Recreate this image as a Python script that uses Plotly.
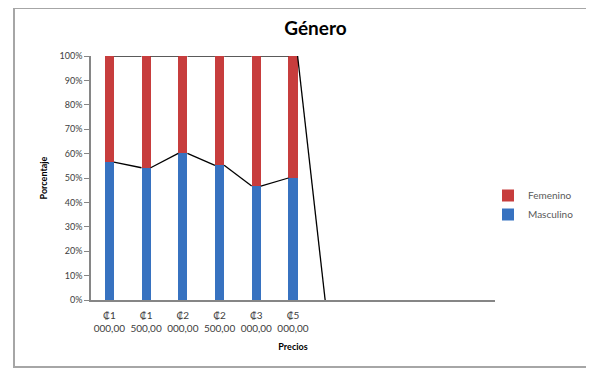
import plotly.graph_objects as go

# ---- data ----
categories = ["₡1 000,00", "₡1 500,00", "₡2 000,00", "₡2 500,00", "₡3 000,00", "₡5 000,00",
              "", "", "", "", ""]
masculino = [56.5, 54.2, 60.1, 55.2, 46.7, 50.0, 0, 0, 0, 0, 0]
femenino = [43.5, 45.8, 39.9, 44.8, 53.3, 50.0, 0, 0, 0, 0, 0]
y_ticks = [0, 10, 20, 30, 40, 50, 60, 70, 80, 90, 100]

BAR_W = 0.25
pos = list(range(len(categories)))
ticktext = [c.replace(" ", "<br>") for c in categories]
n_data = 6

fig = go.Figure()
fig.add_trace(go.Bar(x=pos, y=masculino, name="Masculino", width=BAR_W,
                     marker=dict(color="#3772c0", line=dict(width=0))))
fig.add_trace(go.Bar(x=pos, y=femenino, name="Femenino", width=BAR_W,
                     marker=dict(color="#c73d3d", line=dict(width=0))))

# series lines (Excel style) built from the data
totals = [m + f for m, f in zip(masculino, femenino)]
lx, ly = [], []
for i in range(n_data):
    lx += [pos[i] + BAR_W / 2, pos[i + 1] - BAR_W / 2, None]
    ly += [totals[i], totals[i + 1], None]
mx, my = [], []
for i in range(n_data - 1):
    mx += [pos[i] + BAR_W / 2, pos[i + 1] - BAR_W / 2, None]
    my += [masculino[i], masculino[i + 1], None]
for xs, ys in ((lx, ly), (mx, my)):
    fig.add_trace(go.Scatter(x=xs, y=ys, mode="lines", showlegend=False,
                             line=dict(color="#000000", width=1.3), hoverinfo="skip"))

# the page body has an 8px default margin; work in screen coords minus 8
O = 8
W, H = 594 - O, 368 - O
L = 91 - O
R = W - (495 - O)
T = 56 - O
B = H - (300 - O)
pw, ph = W - L - R, H - T - B

def px(x):
    return (x - O - L) / pw

def py(y):
    return (H - B - (y - O)) / ph

fig.update_layout(
    width=W, height=H,
    margin=dict(l=L, r=R, t=T, b=B, autoexpand=False),
    paper_bgcolor="white", plot_bgcolor="white",
    barmode="stack",
    font=dict(family="Lato, Liberation Sans, sans-serif", size=10, color="#404040"),
    title=dict(text="<b>Género</b>", x=px(303), xanchor="center", y=1 - (28 - O) / H, yanchor="middle",
               font=dict(size=19, color="#000000")),
    xaxis=dict(range=[-0.5, len(categories) - 0.5], tickmode="array",
               tickvals=pos, ticktext=ticktext, showline=True, linecolor="#868686",
               linewidth=1.5, ticks="", showgrid=False, zeroline=False,
               ticklabelstandoff=5,
               tickfont=dict(size=10, color="#404040"),
               title=dict(text="<b>Precios</b>", font=dict(size=9, color="#000000"), standoff=11)),
    yaxis=dict(range=[0, 100], tickmode="array", tickvals=y_ticks,
               ticktext=[f"{v}%" for v in y_ticks], showline=True, linecolor="#868686",
               linewidth=1.5, ticks="outside", ticklen=5, tickcolor="#868686",
               showgrid=False, zeroline=False, tickfont=dict(size=9, color="#404040"),
               title=dict(text="<b>Porcentaje</b>", font=dict(size=9, color="#000000"), standoff=10)),
    legend=dict(x=px(488), y=py(181), xanchor="left", yanchor="top",
                traceorder="reversed", font=dict(size=10, color="#595959"),
                bgcolor="rgba(0,0,0,0)", itemwidth=30, tracegroupgap=0),
    shapes=[dict(type="rect", xref="paper", yref="paper",
                 x0=px(14), x1=px(593), y0=py(367), y1=py(8),
                 line=dict(color="#a6a6a6", width=2), layer="below")],
    showlegend=True,
)

fig.write_html("out.html")
